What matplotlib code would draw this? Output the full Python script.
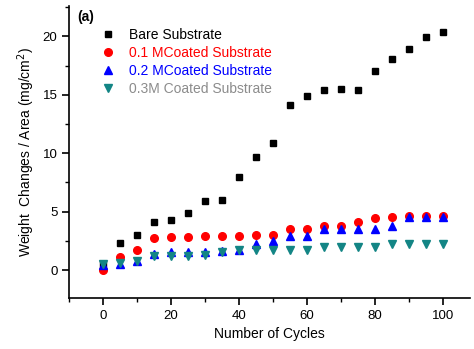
import matplotlib.pyplot as plt
from matplotlib.ticker import MultipleLocator

plt.rcParams["font.family"] = ["Liberation Sans", "DejaVu Sans"]

cycles = [0, 5, 10, 15, 20, 25, 30, 35, 40, 45, 50,
          55, 60, 65, 70, 75, 80, 85, 90, 95, 100]

bare = [0.5, 2.3, 3.0, 4.1, 4.3, 4.9, 5.9, 5.95, 8.0, 9.7, 10.85,
        14.1, 14.85, 15.4, 15.45, 15.4, 17.0, 18.1, 18.9, 19.9, 20.4]
m01 = [0.0, 1.15, 1.7, 2.7, 2.8, 2.8, 2.95, 2.9, 2.9, 3.0, 3.0,
       3.5, 3.55, 3.75, 3.75, 4.1, 4.45, 4.5, 4.65, 4.65, 4.65]
m02 = [0.45, 0.5, 0.8, 1.35, 1.55, 1.55, 1.55, 1.6, 1.7, 2.2, 2.5,
       2.9, 2.9, 3.5, 3.5, 3.5, 3.55, 3.8, 4.5, 4.5, 4.5]
m03 = [0.55, 0.6, 0.75, 1.2, 1.2, 1.2, 1.3, 1.5, 1.7, 1.75, 1.75,
       1.75, 1.75, 1.95, 1.95, 1.95, 2.0, 2.2, 2.2, 2.2, 2.2]

labels = ["Bare Substrate", "0.1 MCoated Substrate",
          "0.2 MCoated Substrate", "0.3M Coated Substrate"]
label_colors = ["black", "red", "blue", "#8c8c8c"]

fig = plt.figure(figsize=(4.74, 3.49), dpi=100)
ax = fig.add_axes([0.146, 0.146, 0.846, 0.837])

ax.plot(cycles, bare, "s", color="black", ms=5, label=labels[0])
ax.plot(cycles, m01, "o", color="red", ms=5.5, label=labels[1])
ax.plot(cycles, m02, "^", color="blue", ms=5.5, label=labels[2])
ax.plot(cycles, m03, "v", color="#138585", ms=5.5, label=labels[3])

ax.set_xlim(-10, 108)
ax.set_ylim(-2.4, 22.6)
ax.xaxis.set_major_locator(MultipleLocator(20))
ax.xaxis.set_minor_locator(MultipleLocator(10))
ax.yaxis.set_major_locator(MultipleLocator(5))
ax.yaxis.set_minor_locator(MultipleLocator(2.5))

for side in ("top", "right"):
    ax.spines[side].set_visible(False)
for side in ("left", "bottom"):
    ax.spines[side].set_linewidth(1.2)

ax.tick_params(which="major", length=5, width=1.2, labelsize=9.5)
ax.tick_params(which="minor", length=3, width=1)

ax.set_xlabel("Number of Cycles", fontsize=10)
ax.set_ylabel("Weight  Changes / Area (mg/cm$^2$)", fontsize=10, labelpad=4)

leg = ax.legend(loc="upper left", bbox_to_anchor=(0.062, 0.945), frameon=False,
                fontsize=10, handletextpad=0.9, labelspacing=0.3,
                handlelength=1.2, borderaxespad=0)
for txt, c in zip(leg.get_texts(), label_colors):
    txt.set_color(c)

ax.text(0.02, 0.985, "(a)", transform=ax.transAxes, fontsize=10,
        fontweight="bold", va="top", ha="left")

fig.savefig("out.png", dpi=100)
